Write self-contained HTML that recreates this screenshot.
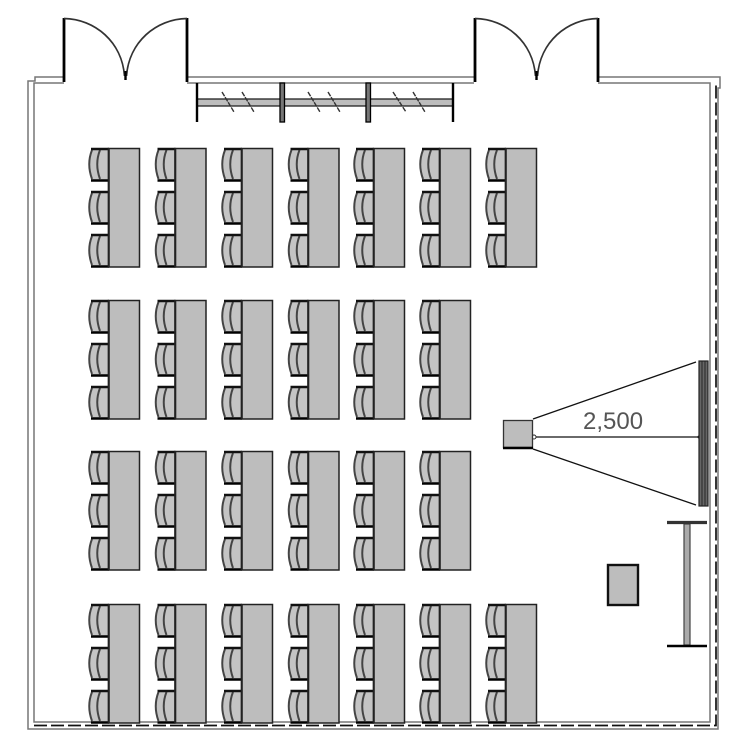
<!DOCTYPE html>
<html>
<head>
<meta charset="utf-8">
<style>
html,body{margin:0;padding:0;background:#fff;width:750px;height:750px;overflow:hidden}
svg{display:block;filter:blur(0.35px)}
</style>
</head>
<body>
<svg xmlns="http://www.w3.org/2000/svg" width="750" height="750" viewBox="0 0 750 750">
<defs>
  <g id="chair">
    <path d="M92 1 L109 1 L109 32 L92 32 Q87 16 92 1 Z" fill="#c4c4c4" stroke="none"/>
    <path d="M92 31 Q86.500 16 92 2" fill="none" stroke="#444" stroke-width="2"/>
    <path d="M100 2 Q94.500 16 100 31" fill="none" stroke="#444" stroke-width="2"/>
    <path d="M91 1 H109" stroke="#111" stroke-width="2.400" fill="none"/>
    <path d="M91 32.500 H109" stroke="#000" stroke-width="2.600" fill="none"/>
  </g>
  <g id="desk">
    <use href="#chair" x="0" y="148"/>
    <use href="#chair" x="0" y="191"/>
    <use href="#chair" x="0" y="234"/>
    <rect x="108.500" y="148.500" width="31" height="118.500" fill="#bdbdbd" stroke="#222" stroke-width="1.500"/>
    <path d="M108.800 149 V267" stroke="#222" stroke-width="2" fill="none"/>
  </g>
  <g id="row7">
    <use href="#desk" x="0"/><use href="#desk" x="66.500"/><use href="#desk" x="133"/><use href="#desk" x="199.500"/><use href="#desk" x="265"/><use href="#desk" x="331"/><use href="#desk" x="397"/>
  </g>
  <g id="row6">
    <use href="#desk" x="0"/><use href="#desk" x="66.500"/><use href="#desk" x="133"/><use href="#desk" x="199.500"/><use href="#desk" x="265"/><use href="#desk" x="331"/>
  </g>
  <g id="door">
    <path d="M64 82 V18" stroke="#000" stroke-width="2.800" fill="none"/>
    <path d="M187 82 V18" stroke="#000" stroke-width="2.800" fill="none"/>
    <path d="M64 18.500 C95 19 122 42 124.500 76" stroke="#333" stroke-width="1.700" fill="none"/>
    <path d="M187 18.500 C156 19 129 42 126.500 76" stroke="#333" stroke-width="1.700" fill="none"/>
    <path d="M125.500 71 V80" stroke="#000" stroke-width="2.400" fill="none"/>
  </g>
</defs>

<!-- walls -->
<g fill="none" stroke="#777" stroke-width="1.500">
  <path d="M64 77 H35 V81 H28 V729 H718 V88 H720 V77 H598"/>
  <path d="M64 83 H34 V722 H710 V83 H598"/>
  <path d="M187 77 H474"/>
  <path d="M187 83 H474"/>
</g>
<path d="M34 725.500 H716 V84" fill="none" stroke="#111" stroke-width="1.700" stroke-dasharray="13 4"/>

<!-- doors -->
<use href="#door"/>
<use href="#door" x="411"/>

<!-- window -->
<rect x="197" y="99" width="256" height="7" fill="#bdbdbd" stroke="#222" stroke-width="1.300"/>
<g stroke="#000" stroke-width="2.400" fill="none">
  <path d="M197 83 V122"/>
  <path d="M453 83 V122"/>
</g>
<rect x="280" y="83" width="4.500" height="39" fill="#777" stroke="#000" stroke-width="1.300"/>
<rect x="366" y="83" width="4.500" height="39" fill="#777" stroke="#000" stroke-width="1.300"/>
<g stroke="#333" stroke-width="1.400" fill="none" stroke-dasharray="5 1">
  <path d="M222 92 L234 112"/><path d="M242 92 L254 112"/>
  <path d="M308 92 L320 112"/><path d="M328 92 L340 112"/>
  <path d="M393 92 L406 112"/><path d="M413 92 L425 112"/>
</g>

<!-- seating -->
<use href="#row7" y="0"/>
<use href="#row6" y="152"/>
<use href="#row6" y="303"/>
<use href="#row7" y="456"/>

<!-- projector -->
<path d="M533 419 L696 362" stroke="#111" stroke-width="1.300" fill="none"/>
<path d="M533 449 L696 505" stroke="#111" stroke-width="1.300" fill="none"/>
<path d="M535 437 H699" stroke="#111" stroke-width="1.300" fill="none"/>
<circle cx="534" cy="437" r="2" fill="#fff" stroke="#222" stroke-width="0.900"/>
<circle cx="699" cy="437" r="1.500" fill="#111"/>
<rect x="503.500" y="420.500" width="29" height="27" fill="#bdbdbd" stroke="#333" stroke-width="1.300"/>
<path d="M503 448 H533" stroke="#000" stroke-width="2.400" fill="none"/>
<text x="583" y="429" font-family="'Liberation Sans',sans-serif" font-size="24" fill="#555">2,500</text>

<!-- screen -->
<rect x="699" y="361" width="9" height="145" fill="#666" stroke="#222" stroke-width="1.200"/>
<path d="M702 361 V506 M705 361 V506" stroke="#222" stroke-width="0.900" fill="none"/>

<!-- lectern -->
<rect x="608" y="565" width="30" height="40" fill="#bdbdbd" stroke="#111" stroke-width="2.400"/>

<!-- stand -->
<rect x="684" y="524" width="6" height="121" fill="#aaa" stroke="#444" stroke-width="1.200"/>
<path d="M667 522.500 H707" stroke="#333" stroke-width="3.200" fill="none"/>
<path d="M667 646 H707" stroke="#000" stroke-width="2.600" fill="none"/>
</svg>
</body>
</html>
